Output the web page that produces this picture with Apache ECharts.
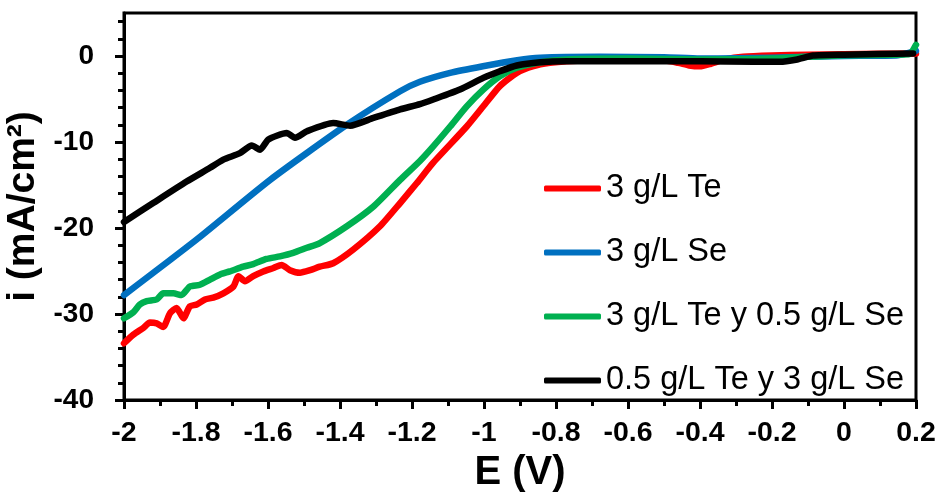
<!DOCTYPE html>
<html>
<head>
<meta charset="utf-8">
<title>Voltametría</title>
<script src="https://cdn.jsdelivr.net/npm/echarts@6/dist/echarts.min.js"></script>
<style>
  html, body { margin: 0; padding: 0; background: #fff; }
  #chart { width: 941px; height: 499px; }
</style>
</head>
<body>
<div id="chart"></div>
<script>
// Potential (V) and current density (mA/cm²) for each bath composition
const teE = [-2.0, -1.974, -1.946, -1.928, -1.909, -1.891, -1.872, -1.854, -1.835, -1.817, -1.798, -1.775, -1.752, -1.724, -1.696, -1.682, -1.664, -1.641, -1.613, -1.585, -1.562, -1.539, -1.511, -1.483, -1.456, -1.419, -1.363, -1.289, -1.233, -1.187, -1.141, -1.048, -1.002, -0.956, -0.909, -0.863, -0.817, -0.77, -0.7, -0.6, -0.5, -0.46, -0.43, -0.4, -0.37, -0.33, -0.28, -0.2, -0.1, 0, 0.1, 0.2];
const teI = [-33.4, -32.4, -31.6, -31.0, -31.1, -31.5, -29.9, -29.3, -30.5, -29.1, -28.9, -28.3, -28.1, -27.6, -26.8, -25.6, -26.2, -25.6, -25.05, -24.65, -24.3, -24.9, -25.2, -24.9, -24.5, -24.1, -22.5, -19.8, -17.1, -14.8, -12.4, -8.2, -5.85, -3.5, -1.96, -1.19, -0.8, -0.6, -0.5, -0.45, -0.5, -0.8, -1.1, -1.2, -0.9, -0.4, -0.1, 0.05, 0.15, 0.2, 0.25, 0.3];

const seE = [-2.0, -1.8, -1.594, -1.381, -1.233, -1.178, -1.094, -1.003, -0.908, -0.844, -0.678, -0.5, -0.4, -0.3, -0.2, 0, 0.15, 0.2];
const seI = [-27.8, -21.4, -14.4, -8.0, -4.1, -3.0, -1.96, -1.19, -0.49, -0.2, -0.1, -0.15, -0.3, -0.25, -0.2, 0, 0.1, 0.6];

const teSeE = [-2.0, -1.974, -1.956, -1.937, -1.909, -1.891, -1.863, -1.84, -1.817, -1.789, -1.761, -1.733, -1.706, -1.669, -1.641, -1.604, -1.567, -1.53, -1.492, -1.456, -1.381, -1.307, -1.233, -1.178, -1.141, -1.094, -1.048, -1.002, -0.956, -0.909, -0.844, -0.77, -0.6, -0.4, -0.2, 0, 0.18, 0.2];
const teSeI = [-30.5, -29.8, -28.9, -28.5, -28.3, -27.6, -27.6, -27.8, -26.8, -26.6, -26.0, -25.4, -25.05, -24.5, -24.2, -23.6, -23.3, -22.9, -22.3, -21.75, -19.8, -17.5, -14.4, -12.2, -10.5, -8.2, -5.85, -3.9, -2.35, -1.37, -0.72, -0.4, -0.3, -0.4, -0.3, 0.1, 0.2, 1.3];

const seTeE = [-2.0, -1.919, -1.826, -1.761, -1.724, -1.678, -1.645, -1.622, -1.599, -1.548, -1.525, -1.492, -1.419, -1.372, -1.307, -1.233, -1.178, -1.141, -1.067, -1.002, -0.956, -0.909, -0.844, -0.77, -0.6, -0.4, -0.25, -0.178, -0.13, -0.086, 0, 0.192];
const seTeI = [-19.3, -17.1, -14.6, -13.0, -12.05, -11.3, -10.4, -10.9, -9.7, -8.95, -9.5, -8.75, -7.8, -8.1, -7.2, -6.2, -5.6, -5.06, -3.9, -2.54, -1.77, -1.1, -0.72, -0.6, -0.6, -0.62, -0.68, -0.68, -0.4, 0.05, 0.15, 0.3];

const seriesNames = ['3 g/L Te', '3 g/L Se', '3 g/L Te y 0.5 g/L Se', '0.5 g/L Te y 3 g/L Se'];
const seriesColors = ['#FF0000', '#0070C0', '#00B050', '#000000'];

// Axis ticks
const xMajorTicks = [-2, -1.8, -1.6, -1.4, -1.2, -1, -0.8, -0.6, -0.4, -0.2, 0, 0.2];
const xMinorTicks = [-1.9, -1.7, -1.5, -1.3, -1.1, -0.9, -0.7, -0.5, -0.3, -0.1, 0.1];
const yMajorTicks = [-40, -30, -20, -10, 0];
const yMinorTicks = [-38, -36, -34, -32, -28, -26, -24, -22, -18, -16, -14, -12, -8, -6, -4, -2, 2, 4];

const pairs = (xs, ys) => xs.map((x, k) => [x, ys[k]]);
const curves = [pairs(teE, teI), pairs(seE, seI), pairs(teSeE, teSeI), pairs(seTeE, seTeI)];

const FONT = '"Liberation Sans", Arial, sans-serif';
const fmt = v => String(+(+v).toFixed(1));

const chart = echarts.init(document.getElementById('chart'), null, { renderer: 'canvas' });

chart.setOption({
  animation: false,
  backgroundColor: '#ffffff',
  textStyle: { fontFamily: FONT },
  grid: {
    left: 124, right: 25, top: 13, bottom: 99,
    outerBoundsMode: 'none',
    containLabel: false,
    show: true, borderColor: '#000', borderWidth: 3, backgroundColor: 'transparent'
  },
  legend: {
    orient: 'vertical',
    left: 544, top: 172,
    padding: 0,
    itemWidth: 57, itemHeight: 6, itemGap: 31,
    icon: 'roundRect',
    data: seriesNames,
    textStyle: { fontFamily: FONT, fontSize: 32.5, color: '#000', lineHeight: 32 }
  },
  xAxis: [
    {
      type: 'value', position: 'bottom', min: -2, max: 0.2, interval: 0.2,
      name: 'E (V)', nameLocation: 'middle', nameGap: 52,
      nameTextStyle: { fontFamily: FONT, fontSize: 40, fontWeight: 'bold', color: '#000' },
      axisLine: { show: true, onZero: false, lineStyle: { color: '#000', width: 3 } },
      axisTick: { show: true, length: 9, lineStyle: { color: '#000', width: 3 }, customValues: xMajorTicks },
      axisLabel: {
        customValues: xMajorTicks, formatter: fmt, margin: 19,
        fontFamily: FONT, fontSize: 28.5, fontWeight: 'bold', color: '#000'
      },
      splitLine: { show: false }
    },
    {
      type: 'value', position: 'bottom', min: -2, max: 0.2,
      axisLine: { show: false, onZero: false },
      axisTick: { show: true, length: 6, lineStyle: { color: '#000', width: 3 }, customValues: xMinorTicks },
      axisLabel: { show: false },
      splitLine: { show: false }
    }
  ],
  yAxis: [
    {
      type: 'value', position: 'left', min: -40, max: 5, interval: 10,
      name: 'i (mA/cm²)', nameLocation: 'middle', nameGap: 68,
      nameTextStyle: { fontFamily: FONT, fontSize: 39, fontWeight: 'bold', color: '#000' },
      axisLine: { show: true, onZero: false, lineStyle: { color: '#000', width: 3 } },
      axisTick: { show: true, length: 9, lineStyle: { color: '#000', width: 3 }, customValues: yMajorTicks },
      axisLabel: {
        customValues: yMajorTicks, formatter: fmt, margin: 30,
        fontFamily: FONT, fontSize: 28, fontWeight: 'bold', color: '#000'
      },
      splitLine: { show: false }
    },
    {
      type: 'value', position: 'left', min: -40, max: 5,
      axisLine: { show: false, onZero: false },
      axisTick: { show: true, length: 6, lineStyle: { color: '#000', width: 3 }, customValues: yMinorTicks },
      axisLabel: { show: false },
      splitLine: { show: false }
    }
  ],
  series: curves.map((d, k) => ({
    name: seriesNames[k],
    type: 'line',
    xAxisIndex: 0, yAxisIndex: 0,
    data: d,
    showSymbol: false,
    symbol: 'none',
    smooth: 0.2,
    clip: true,
    color: seriesColors[k],
    itemStyle: { color: seriesColors[k] },
    lineStyle: { color: seriesColors[k], width: 6.5, cap: 'round', join: 'round' }
  }))
});
</script>
</body>
</html>
